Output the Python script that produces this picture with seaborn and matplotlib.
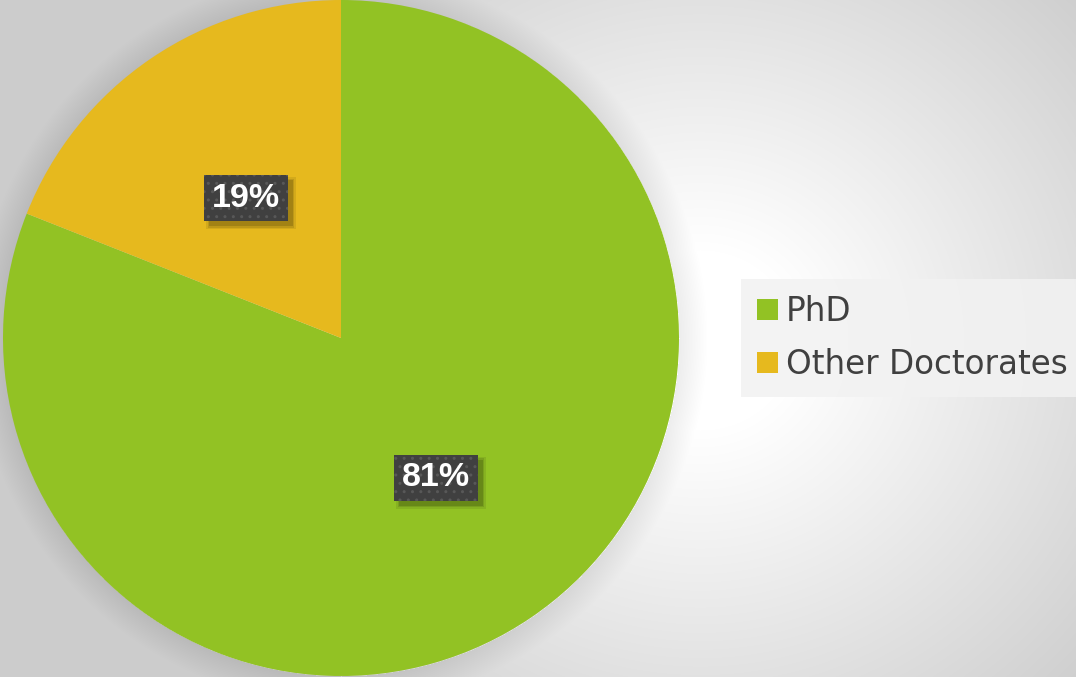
import numpy as np
import matplotlib
matplotlib.use("Agg")
import matplotlib.pyplot as plt
from matplotlib.patches import Patch, Rectangle
import seaborn as sns

# Chart data
categories = ["PhD", "Other Doctorates"]
shares = [81, 19]
slice_colors = ["#92C224", "#E6B91E"]

W, H = 1076, 677

sns.set_theme(style="white")
plt.rcParams['font.family'] = ['DejaVu Sans']

fig = plt.figure(figsize=(W / 100, H / 100), dpi=100)
ax = fig.add_axes([0, 0, 1, 1])

# Radial grey background with a white glow right of the pie
yy, xx = np.mgrid[0:H, 0:W]
d = np.hypot((xx - 700) * 0.95, yy - 340)
bg = 1.0 - 0.20 * np.clip((d - 90) / 430.0, 0, 1)
# soft halo around the pie
cx, cy, r = 341, 338, 338
dp = np.hypot(xx - cx, yy - cy)
halo = np.clip(1 - (dp - r) / 28.0, 0, 1) * (dp > r)
bg = bg - 0.07 * halo
ax.imshow(np.dstack([bg, bg, bg]), extent=(0, W, 0, H), origin="upper",
          aspect="auto", zorder=0)

wedges, texts, autotexts = ax.pie(
    shares, colors=slice_colors, startangle=90, counterclock=False,
    center=(cx, H - cy), radius=r, autopct="%d%%", pctdistance=0.5,
    wedgeprops=dict(linewidth=0),
    textprops=dict(color="white", fontsize=24.5, fontweight="bold",
                   family="Liberation Sans"))

for t in autotexts:
    t.set_zorder(5)
    t.set_bbox(dict(boxstyle="square,pad=0.22", facecolor="#404040",
                    edgecolor="#585858", linewidth=0, hatch=".."))

ax.set_xlim(0, W)
ax.set_ylim(0, H)
ax.set_aspect("auto")
ax.axis("off")

# soft drop shadow under each label box
fig.canvas.draw()
for t in autotexts:
    bb = t.get_bbox_patch().get_window_extent()
    for grow, a in [(3, 0.08), (1.5, 0.1), (0, 0.14)]:
        ax.add_patch(Rectangle((bb.x0 + 5 - grow, bb.y0 - 5 - grow),
                               bb.width + 2 * grow, bb.height + 2 * grow,
                               transform=None, facecolor="black", alpha=a,
                               linewidth=0, zorder=4))

handles = [Patch(facecolor=c, edgecolor="none") for c in slice_colors]
leg = ax.legend(handles, categories, loc="upper left",
                bbox_to_anchor=(741 / W, 1 - 279 / H), bbox_transform=fig.transFigure,
                fontsize=23.5, frameon=True, fancybox=False,
                handlelength=0.62, handleheight=0.62, handletextpad=0.25,
                labelspacing=0.6, borderpad=0.5, borderaxespad=0)
leg.get_frame().set_facecolor("#f2f2f2")
leg.get_frame().set_edgecolor("none")
leg.get_frame().set_alpha(0.85)
for txt in leg.get_texts():
    txt.set_color("#404040")

fig.savefig("out.png", dpi=100)
